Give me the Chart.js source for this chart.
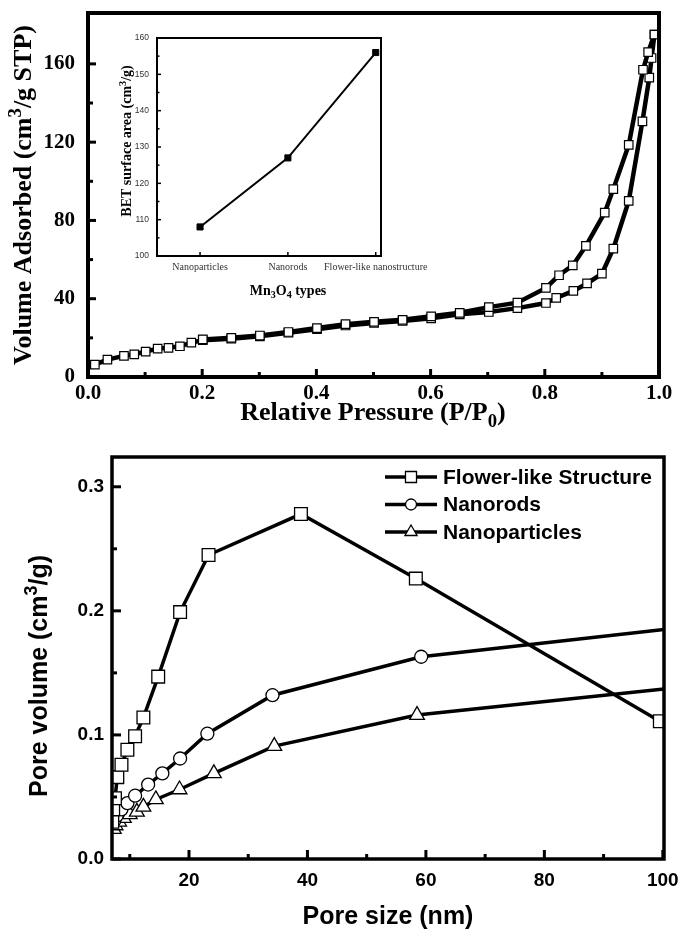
<!DOCTYPE html>
<html>
<head>
<meta charset="utf-8">
<script src="https://cdn.jsdelivr.net/npm/chart.js@4.4.0/dist/chart.umd.min.js"></script>
<style>
  body { margin: 0; background: #fff; }
  #wrap { position: relative; width: 682px; height: 933px; overflow: hidden; }
  canvas { position: absolute; }
</style>
</head>
<body>
<div id="wrap">
  <canvas id="pore" width="682" height="513" style="left:0;top:420px;"></canvas>
  <canvas id="iso" width="682" height="432" style="left:0;top:0;"></canvas>
  <canvas id="bet" width="340" height="282" style="left:100px;top:28px;"></canvas>
</div>
<script>
// N2 adsorption / desorption isotherm (top)
const adsP = [0.012, 0.034, 0.063, 0.081, 0.101, 0.122, 0.141, 0.161, 0.181, 0.201, 0.251, 0.301, 0.351, 0.401, 0.451, 0.501, 0.551, 0.601, 0.651, 0.702, 0.752, 0.802, 0.820, 0.850, 0.874, 0.900, 0.920, 0.947, 0.971, 0.983, 0.987, 0.992];
const adsV = [6.3, 8.9, 10.8, 11.6, 13.0, 14.5, 14.9, 15.7, 17.6, 18.8, 19.6, 20.8, 22.6, 24.4, 26.3, 27.6, 28.6, 30.0, 32.0, 33.2, 35.2, 37.8, 40.4, 44.0, 47.8, 52.8, 65.6, 90.0, 130.6, 153.0, 163.0, 175.0];
const desP = [0.992, 0.981, 0.972, 0.947, 0.920, 0.905, 0.872, 0.849, 0.825, 0.802, 0.752, 0.702, 0.651, 0.601, 0.551, 0.501, 0.451, 0.401, 0.351, 0.301, 0.251, 0.201];
const desV = [175.0, 166.0, 157.0, 118.6, 96.0, 84.0, 67.0, 57.0, 52.0, 45.5, 38.0, 35.7, 32.8, 31.0, 29.2, 28.2, 27.0, 25.0, 23.0, 21.2, 20.0, 19.2];
const pressureTicks = [0, 0.2, 0.4, 0.6, 0.8, 1.0];
const pressureMinor = [0.1, 0.3, 0.5, 0.7, 0.9];
const volumeTicks = [0, 40, 80, 120, 160];
const volumeMinor = [20, 60, 100, 140];

// inset: BET surface area
const types = ["Nanoparticles", "Nanorods", "Flower-like nanostructure"];
const betArea = [108, 127, 156];
const betTicks = [100, 110, 120, 130, 140, 150, 160];
const betMinor = [105, 115, 125, 135, 145, 155];

// pore size distribution (bottom)
const flowerSize = [7.05, 7.2, 7.5, 7.9, 8.6, 9.6, 10.9, 12.3, 14.8, 18.5, 23.3, 38.9, 58.3, 99.5];
const flowerVol = [0.030, 0.040, 0.049, 0.066, 0.076, 0.088, 0.099, 0.114, 0.147, 0.199, 0.245, 0.278, 0.226, 0.111];
const rodSize = [7.4, 7.8, 8.6, 9.6, 10.9, 13.1, 15.5, 18.5, 23.1, 34.1, 59.2, 100.2];
const rodVol = [0.031, 0.035, 0.040, 0.045, 0.051, 0.060, 0.069, 0.081, 0.101, 0.132, 0.163, 0.185];
const particleSize = [7.3, 7.6, 8.2, 9.0, 10.0, 11.2, 12.3, 14.4, 18.4, 24.2, 34.4, 58.5, 100.2];
const particleVol = [0.024, 0.027, 0.030, 0.033, 0.036, 0.038, 0.042, 0.048, 0.056, 0.069, 0.091, 0.116, 0.137];
const poreTicks = [20, 40, 60, 80, 100];
const poreMinor = [10, 30, 50, 70, 90];
const poreVolTicks = [0, 0.1, 0.2, 0.3];
const poreVolMinor = [0.05, 0.15, 0.25];

const pts = (xs, ys) => xs.map((x, i) => ({ x: x, y: ys[i] }));

// frame + inward ticks (Origin style)
const frameTicks = {
  id: "frameTicks",
  afterDatasetsDraw(chart, args, o) {
    const ctx = chart.ctx, a = chart.chartArea, sx = chart.scales.x, sy = chart.scales.y;
    ctx.save();
    ctx.strokeStyle = "#000";
    ctx.lineCap = "butt";
    const mark = (scale, vals, len) => {
      (vals || []).forEach(v => {
        const p = scale.getPixelForValue(v);
        ctx.beginPath();
        if (scale.axis === "x") { ctx.moveTo(p, a.bottom); ctx.lineTo(p, a.bottom - len); }
        else { ctx.moveTo(a.left, p); ctx.lineTo(a.left + len, p); }
        ctx.stroke();
      });
    };
    ctx.lineWidth = o.tickWidth;
    mark(sx, o.xMajor, o.major); mark(sx, o.xMinor, o.minor);
    mark(sy, o.yMajor, o.major); mark(sy, o.yMinor, o.minor);
    ctx.lineWidth = o.frameWidth;
    ctx.strokeRect(a.left, a.top, a.right - a.left, a.bottom - a.top);
    ctx.restore();
  }
};

// text with super/subscripts
function richText(ctx, t) {
  ctx.save();
  ctx.translate(t.x, t.y);
  ctx.rotate(t.rot || 0);
  ctx.fillStyle = "#000";
  ctx.textAlign = "left";
  ctx.textBaseline = "alphabetic";
  const w = t.weight || "bold";
  const fonts = t.parts.map(p => w + " " + (p[1] ? t.size * 0.72 : t.size) + "px " + t.family);
  let total = 0;
  t.parts.forEach((p, i) => { ctx.font = fonts[i]; total += ctx.measureText(p[0]).width; });
  let cx = -total / 2;
  t.parts.forEach((p, i) => {
    ctx.font = fonts[i];
    const dy = p[1] === 1 ? -t.size * 0.38 : p[1] === -1 ? t.size * 0.25 : 0;
    ctx.fillText(p[0], cx, dy + t.size * 0.35);
    cx += ctx.measureText(p[0]).width;
  });
  ctx.restore();
}

function drawLegend(chart, lg) {
  const ctx = chart.ctx;
  chart.data.datasets.forEach((ds, i) => {
    const y = lg.y + i * lg.gap;
    ctx.save();
    ctx.strokeStyle = "#000";
    ctx.lineWidth = ds.borderWidth;
    ctx.beginPath(); ctx.moveTo(lg.x, y); ctx.lineTo(lg.x + lg.len, y); ctx.stroke();
    ctx.fillStyle = "#fff";
    ctx.lineWidth = ds.pointBorderWidth;
    Chart.helpers.drawPoint(ctx, { pointStyle: ds.pointStyle, radius: lg.radius[i], borderWidth: ds.pointBorderWidth, rotation: 0 }, lg.x + lg.len / 2, y);
    ctx.fillStyle = "#000";
    ctx.font = lg.font;
    ctx.textAlign = "left";
    ctx.textBaseline = "middle";
    ctx.fillText(ds.label, lg.x + lg.len + lg.textGap, y + 1);
    ctx.restore();
  });
}

const decor = {
  id: "decor",
  afterDraw(chart, args, o) {
    (o.titles || []).forEach(t => richText(chart.ctx, t));
    if (o.legend) drawLegend(chart, o.legend);
  }
};

function axis(o) {
  return {
    type: "linear",
    min: o.min,
    max: o.max,
    grid: { display: false, drawTicks: false },
    border: { display: false },
    afterBuildTicks: s => { s.ticks = o.ticks.map(v => ({ value: v })); },
    afterFit: s => {
      if (o.x) s.height = o.size; else s.width = o.size;
      s.paddingTop = s.paddingBottom = s.paddingLeft = s.paddingRight = 0;
    },
    ticks: { color: o.color || "#000", padding: o.pad, font: o.font, callback: o.fmt, autoSkip: false, maxRotation: 0 }
  };
}

const serif = "'Liberation Serif', 'Times New Roman', serif";
const sans = "'Liberation Sans', Arial, sans-serif";

// top chart
new Chart(document.getElementById("iso"), {
  type: "line",
  data: {
    datasets: [
      { label: "Desorption", data: pts(desP, desV) },
      { label: "Adsorption", data: pts(adsP, adsV) }
    ].map(d => Object.assign(d, {
      borderColor: "#000", borderWidth: 4.5, tension: 0,
      pointStyle: "rect", pointRadius: 6, pointBackgroundColor: "#fff",
      pointBorderColor: "#000", pointBorderWidth: 1.2
    }))
  },
  options: {
    responsive: false, animation: false, events: [],
    layout: { padding: { top: 13, right: 23, left: 0, bottom: 0 } },
    scales: {
      x: axis({ x: true, min: 0, max: 1, ticks: pressureTicks, size: 55, pad: 4, fmt: v => v.toFixed(1), font: { family: serif, weight: "bold", size: 21 } }),
      y: axis({ min: 0, max: 186, ticks: volumeTicks, size: 88, pad: 13, fmt: v => String(v), font: { family: serif, weight: "bold", size: 21 } })
    },
    plugins: {
      legend: { display: false }, tooltip: { enabled: false },
      frameTicks: { tickWidth: 3, frameWidth: 4, major: 8, minor: 5, xMajor: pressureTicks, xMinor: pressureMinor, yMajor: volumeTicks, yMinor: volumeMinor },
      decor: {
        titles: [
          { parts: [["Volume Adsorbed (cm", 0], ["3", 1], ["/g STP)", 0]], x: 22, y: 195, size: 26, family: serif, rot: -Math.PI / 2 },
          { parts: [["Relative Pressure (P/P", 0], ["0", -1], [")", 0]], x: 373, y: 411, size: 26, family: serif }
        ]
      }
    }
  },
  plugins: [frameTicks, decor]
});

// inset chart
new Chart(document.getElementById("bet"), {
  type: "line",
  data: {
    datasets: [{
      label: "BET", data: pts([0, 1, 2], betArea),
      borderColor: "#000", borderWidth: 2, tension: 0,
      pointStyle: "rect", pointRadius: 4.3, pointBackgroundColor: "#000", pointBorderColor: "#000", pointBorderWidth: 1
    }]
  },
  options: {
    responsive: false, animation: false, events: [],
    layout: { padding: { top: 10, right: 59, left: 0, bottom: 0 } },
    scales: {
      x: axis({ x: true, min: -0.49, max: 2.06, ticks: [0, 1, 2], size: 54, pad: 5, color: "#333", fmt: v => types[v], font: { family: serif, size: 10 } }),
      y: axis({ min: 100, max: 160, ticks: betTicks, size: 57, pad: 8, color: "#333", fmt: v => String(v), font: { family: sans, size: 8.5 } })
    },
    plugins: {
      legend: { display: false }, tooltip: { enabled: false },
      frameTicks: { tickWidth: 1.5, frameWidth: 2, major: 4, minor: 2.5, xMajor: [0, 1, 2], xMinor: [], yMajor: betTicks, yMinor: betMinor },
      decor: {
        titles: [
          { parts: [["BET surface area (cm", 0], ["3", 1], ["/g)", 0]], x: 26, y: 113, size: 14, family: serif, rot: -Math.PI / 2 },
          { parts: [["Mn", 0], ["3", -1], ["O", 0], ["4", -1], [" types", 0]], x: 188, y: 262, size: 14, family: serif }
        ]
      }
    }
  },
  plugins: [frameTicks, decor]
});

// bottom chart
const lastHidden = r => c => (c.dataIndex === c.dataset.data.length - 1 && c.raw.x > 100 ? 0 : r);
new Chart(document.getElementById("pore"), {
  type: "line",
  data: {
    datasets: [
      { label: "Flower-like Structure", data: pts(flowerSize, flowerVol), pointStyle: "rect", pointRadius: 9 },
      { label: "Nanorods", data: pts(rodSize, rodVol), pointStyle: "circle", pointRadius: lastHidden(6.5) },
      { label: "Nanoparticles", data: pts(particleSize, particleVol), pointStyle: "triangle", pointRadius: lastHidden(8.5) }
    ].map(d => Object.assign(d, {
      borderColor: "#000", borderWidth: 3.5, tension: 0,
      pointBackgroundColor: "#fff", pointBorderColor: "#000", pointBorderWidth: 1.3
    }))
  },
  options: {
    responsive: false, animation: false, events: [],
    layout: { padding: { top: 37, right: 18, left: 0, bottom: 0 } },
    scales: {
      x: axis({ x: true, min: 7, max: 100.2, ticks: poreTicks, size: 74, pad: 10, fmt: v => String(v), font: { family: sans, weight: "bold", size: 19 } }),
      y: axis({ min: 0, max: 0.324, ticks: poreVolTicks, size: 112, pad: 8, fmt: v => v.toFixed(1), font: { family: sans, weight: "bold", size: 19 } })
    },
    plugins: {
      legend: { display: false }, tooltip: { enabled: false },
      frameTicks: { tickWidth: 3, frameWidth: 3.5, major: 9, minor: 5, xMajor: poreTicks, xMinor: poreMinor, yMajor: poreVolTicks, yMinor: poreVolMinor },
      decor: {
        titles: [
          { parts: [["Pore volume (cm", 0], ["3", 1], ["/g)", 0]], x: 38, y: 256, size: 25, family: sans, rot: -Math.PI / 2 },
          { parts: [["Pore size (nm)", 0]], x: 388, y: 495, size: 25, family: sans }
        ],
        legend: { x: 385, y: 57, gap: 27.5, len: 52, textGap: 6, radius: [7.8, 5.5, 7], font: "bold 21px " + sans }
      }
    }
  },
  plugins: [frameTicks, decor]
});
</script>
</body>
</html>
